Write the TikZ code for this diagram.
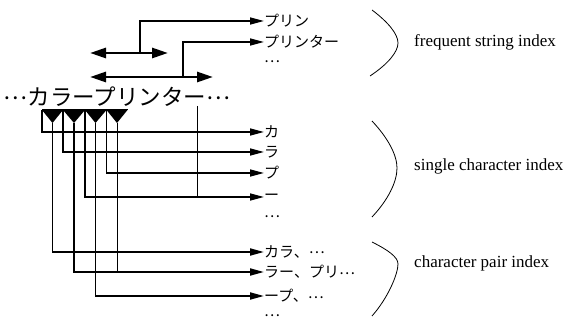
\documentclass[tikz,border=0pt]{standalone}
\usepackage{fontspec}
\setmainfont{Liberation Serif}
\newfontfamily\jp{Noto Sans CJK JP}
\newcommand{\mdots}{\raisebox{0.25em}{…}}
\usetikzlibrary{arrows.meta}
\begin{document}
\begin{tikzpicture}[x=1pt,y=-1pt,
  conn/.style={line width=1.6pt,-{Triangle[length=14pt,width=7pt]}},
  pairconn/.style={line width=1.9pt,-{Triangle[length=14pt,width=7pt]}},
  thinconn/.style={line width=0.8pt},
  span/.style={line width=2.8pt,{Triangle[length=16pt,width=10pt]}-{Triangle[length=16pt,width=10pt]}},
  jl/.style={font=\jp\fontsize{15}{15}\selectfont,anchor=west,inner sep=0pt},
  jdots/.style={font=\jp\fontsize{15}{15}\selectfont,anchor=base west,inner sep=0pt},
  el/.style={font=\fontsize{17}{18}\selectfont,anchor=base west,inner sep=0pt},
  brace/.style={line width=0.8pt}
]
\useasboundingbox (0,0) rectangle (586,320);

% main string
\node[font=\jp\fontsize{22.5}{23}\selectfont,inner sep=0pt] (main) at (117,97) {\raisebox{0.3em}{…}カラープリンター\raisebox{0.3em}{…}};

% labels
\node[jl] (lPurin) at (264,21) {プリン};
\node[jl] (lPurinta) at (264,42) {プリンター};
\node[jdots] (lDotsA) at (264,66) {\smash{\mdots}};
\node[jl] (lKa) at (264,132) {カ};
\node[jl] (lRa) at (264,152) {ラ};
\node[jl] (lPu) at (264,173) {プ};
\node[jl] (lBar) at (264,197) {ー};
\node[jdots] (lDotsB) at (264,221) {\smash{\mdots}};
\node[jl] (lKaRa) at (264,252) {カラ、\mdots};
\node[jl] (lRaBar) at (264,272) {ラー、プリ\mdots};
\node[jl] (lBarPu) at (264,296) {ープ、\mdots};
\node[jdots] (lDotsC) at (264,320) {\smash{\mdots}};

% frequent string spans
\coordinate (f1L) at (90,53);
\coordinate (f1R) at (168,53);
\coordinate (f1m) at (140,53);
\coordinate (f2L) at (90,77);
\coordinate (f2R) at (213,77);
\coordinate (f2m) at (183,77);
\draw[conn] (f1m) |- (lPurin);
\draw[conn] (f2m) |- (lPurinta);
\draw[span] (f1L) -- (f1R);
\draw[span] (f2L) -- (f2R);

% triangles under characters
\coordinate (c1) at (42,110);
\coordinate (c2) at (63,110);
\coordinate (c3) at (85,110);
\coordinate (c4) at (106.5,110);
\coordinate (c5) at (127.5,110);
\coordinate (p1) at (52.5,123);
\coordinate (p2) at (74,123);
\coordinate (p3) at (95.5,123);
\coordinate (p4) at (117,123);
\fill (c1) -- (c2) -- (p1) -- cycle;
\fill (c2) -- (c3) -- (p2) -- cycle;
\fill (c3) -- (c4) -- (p3) -- cycle;
\fill (c4) -- (c5) -- (p4) -- cycle;
\draw[line width=1pt] (c1) -- (c5);

% single character connectors
\draw[conn] (c1) |- (lKa);
\draw[conn] (c2) |- (lRa);
\draw[conn] (c4) |- (lPu);
\draw[conn] (c3) |- (lBar);
\coordinate (s2) at (197,106);
\coordinate (j2) at (197,197);
\draw[thinconn] (s2) -- (j2);

% character pair connectors
\draw[pairconn] (p1) |- (lKaRa);
\draw[pairconn] (p2) |- (lRaBar);
\draw[pairconn] (p3) |- (lBarPu);
\coordinate (j4) at (117,272);
\draw[thinconn] (p4) -- (j4);

% braces
\draw[brace] (372,10) .. controls (388,22) and (398,34) .. (398,43) .. controls (398,52) and (388,64) .. (370,76);
\draw[brace] (372,121) .. controls (388,138) and (397,155) .. (397,168) .. controls (397,182) and (388,200) .. (372,217);
\draw[brace] (372,242) .. controls (388,250) and (398,257) .. (398,264) .. controls (398,274) and (388,298) .. (372,316);

% index names
\node[el] (nFreq) at (414,47) {frequent string index};
\node[el] (nSingle) at (414,171) {single character index};
\node[el] (nPair) at (414,268) {character pair index};
\end{tikzpicture}
\end{document}
